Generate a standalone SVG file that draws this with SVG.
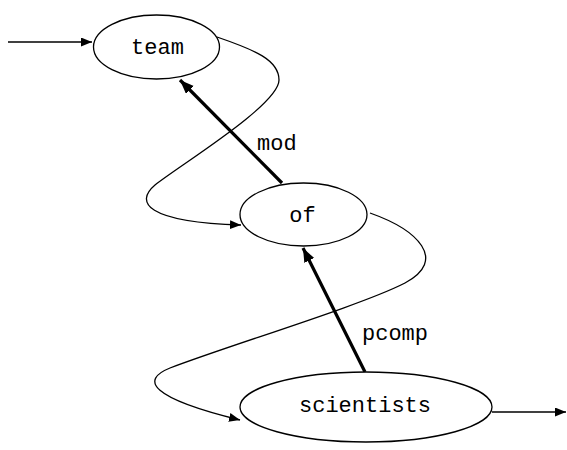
<svg xmlns="http://www.w3.org/2000/svg" width="567" height="450" viewBox="0 0 567 450">
<style>
.node ellipse{fill:#fff;stroke:#000;stroke-width:1.3}
text{font-family:"Liberation Mono","Courier New",monospace;font-size:22px;fill:#000}
.node text{text-anchor:middle}
.thin{fill:none;stroke:#000;stroke-width:1.3}
.thick{fill:none;stroke:#000;stroke-width:3.2}
</style>
<defs>
<marker id="ah" markerUnits="userSpaceOnUse" markerWidth="12" markerHeight="10" refX="11" refY="4.5" orient="auto"><path d="M0,0 L11,4.5 L0,9 z" fill="#000"/></marker>
<marker id="ahb" markerUnits="userSpaceOnUse" markerWidth="16" markerHeight="12" refX="14" refY="5.5" orient="auto"><path d="M0,0 L14,5.5 L0,11 z" fill="#000"/></marker>
</defs>
<rect width="567" height="450" fill="#fff"/>
<g id="connectors">
<path class="thin" d="M8,42 L92,42" marker-end="url(#ah)"/>
<path class="thin" d="M492,412 L566,412" marker-end="url(#ah)"/>
<path class="thick" d="M282,183 L180,80" marker-end="url(#ahb)"/>
<path class="thick" d="M365,372 L303,248" marker-end="url(#ahb)"/>
<path class="thin" d="M217,37 C255,50 279,60 279,80 C279,105 180,165 155,185 C135,202 145,222 241,225" marker-end="url(#ah)"/>
<path class="thin" d="M370,213 C418,230 448,260 405,283 C360,306 230,345 170,368 C140,380 150,398 240,420" marker-end="url(#ah)"/>
<text x="257" y="150">mod</text>
<text x="362" y="340">pcomp</text>
</g>
<g id="team" class="node"><ellipse cx="156.5" cy="47" rx="63" ry="32"/><text x="157.5" y="54">team</text></g>
<g id="of" class="node"><ellipse cx="303.5" cy="214.5" rx="63.5" ry="31.5"/><text x="302.5" y="222">of</text></g>
<g id="scientists" class="node"><ellipse cx="366" cy="407" rx="126" ry="35"/><text x="365" y="412">scientists</text></g>
</svg>
